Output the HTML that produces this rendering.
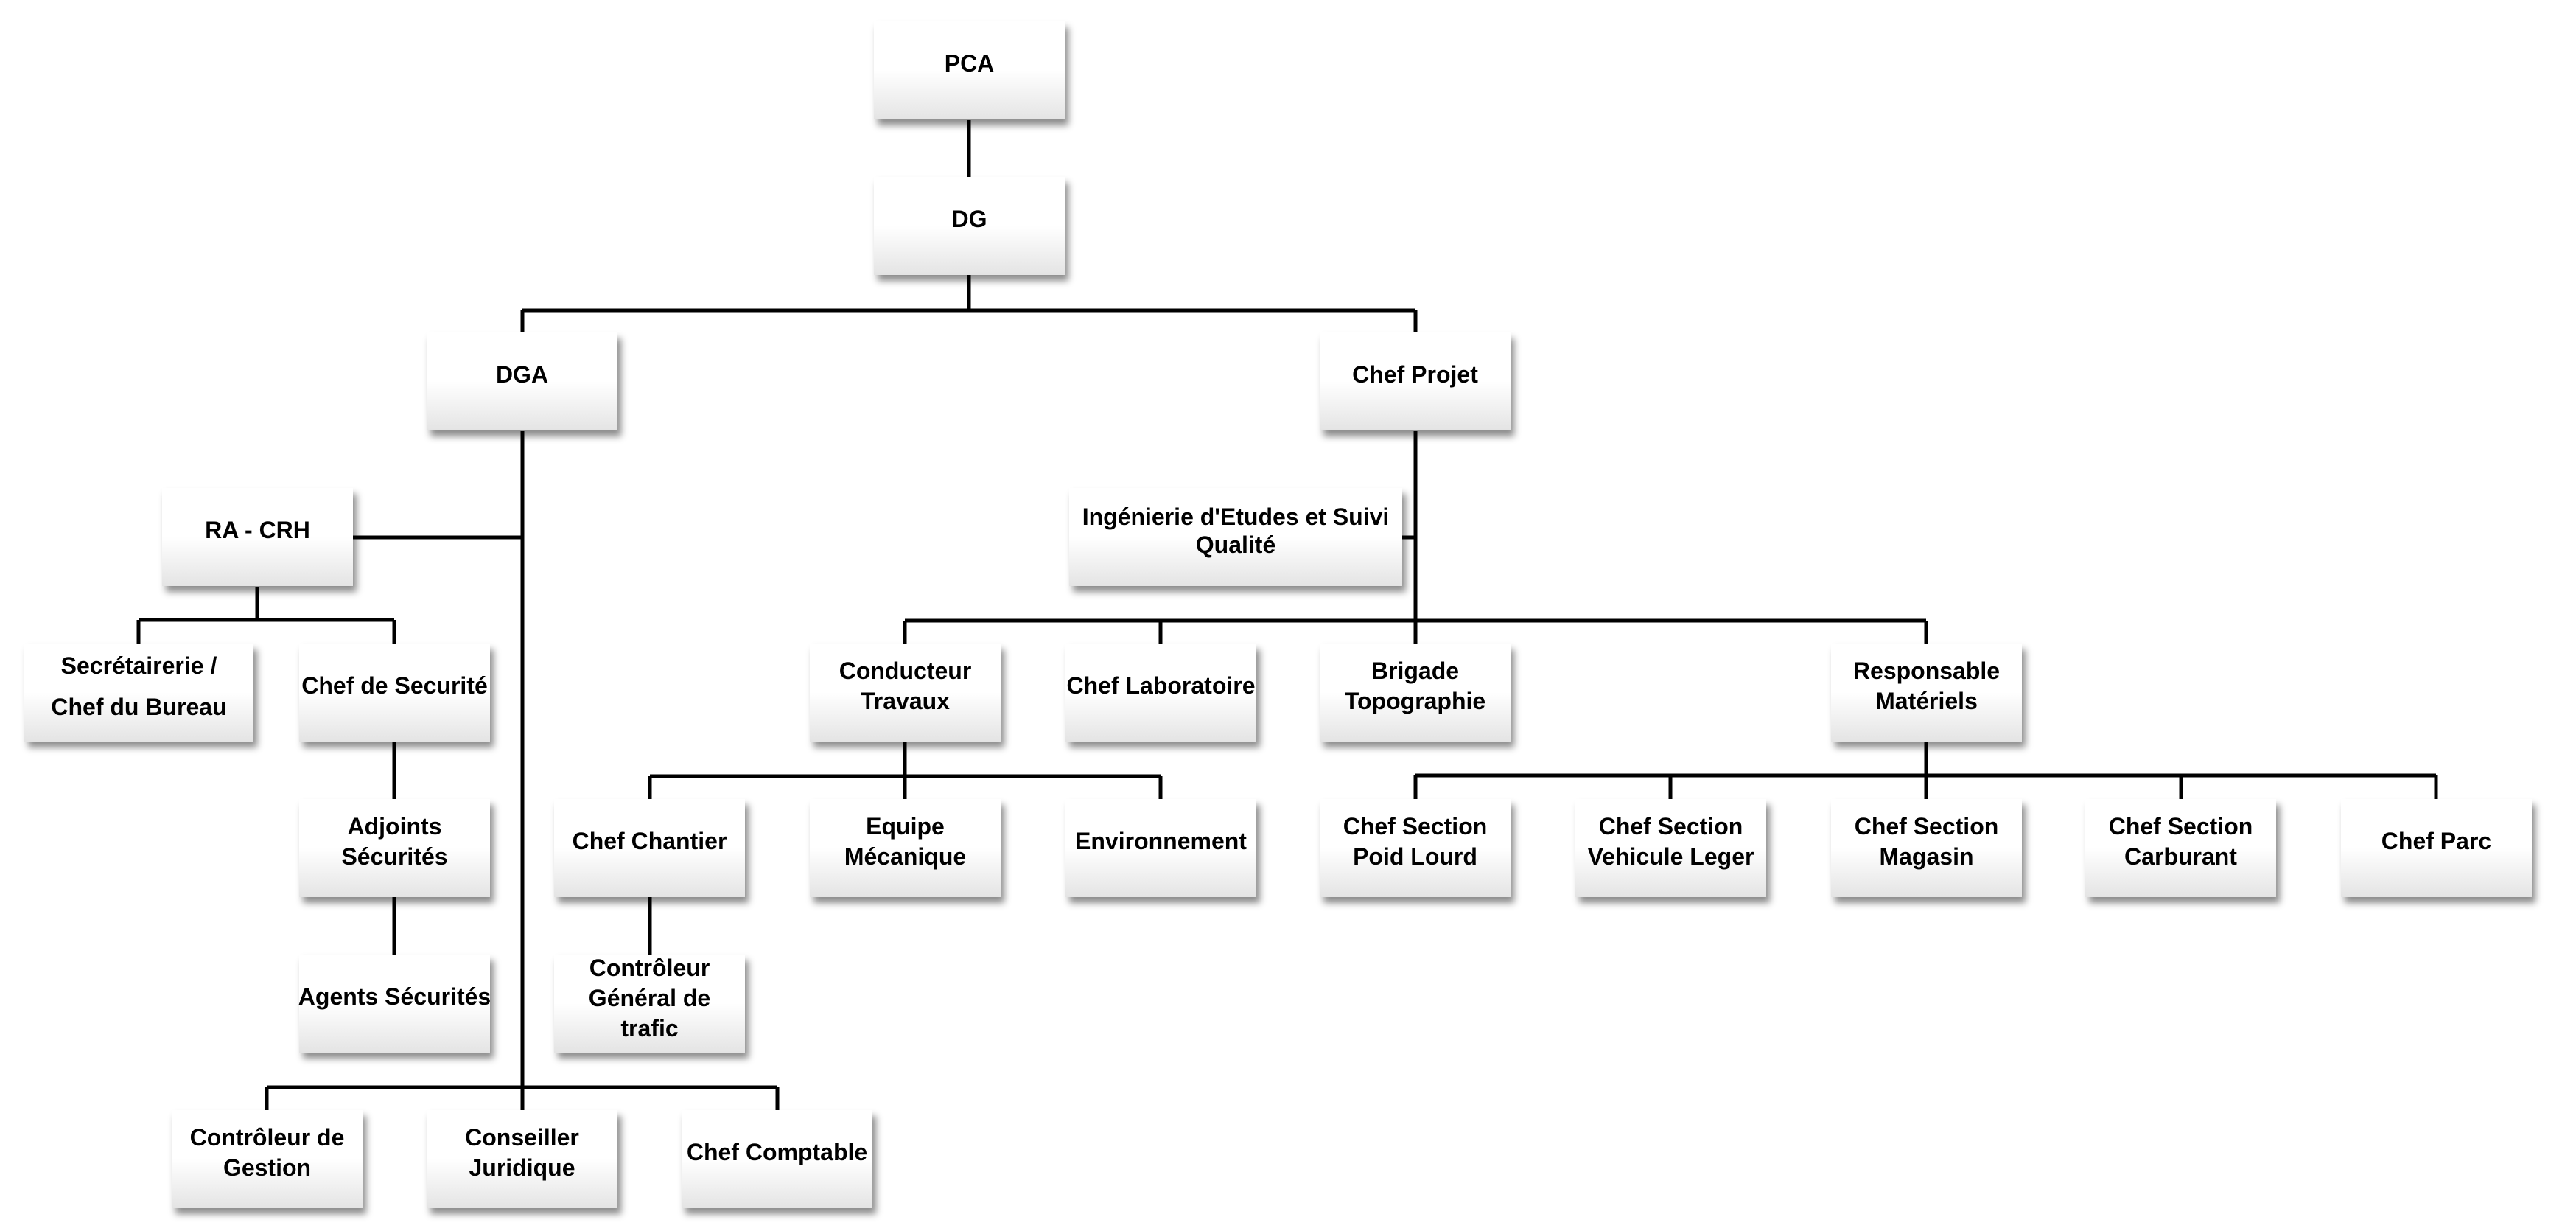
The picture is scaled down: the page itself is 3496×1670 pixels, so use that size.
<!DOCTYPE html>
<html><head><meta charset="utf-8"><style>
html,body{margin:0;padding:0;background:#fff;}
body{width:3496px;height:1670px;position:relative;overflow:hidden;font-family:"Liberation Sans Narrow","Liberation Sans",sans-serif;}
.b{position:absolute;height:133px;width:259px;box-sizing:border-box;background:linear-gradient(to bottom,#fff 0%,#fff 50%,#e4e4e4 100%);box-shadow:5px 8px 9px rgba(0,0,0,0.45);display:flex;align-items:center;justify-content:center;text-align:center;font-weight:bold;font-size:32px;line-height:41px;color:#000;padding-bottom:18px;white-space:nowrap;}
svg{position:absolute;left:0;top:0;}
</style></head><body>
<svg width="3496" height="1670" stroke="#000" stroke-width="5" fill="none">
<path d="M1315 163V240M1315 373V421M709 421H1921M709 421V451M1921 421V451"/>
<path d="M709 585V1475M478 729H709M349 796V841M188 841H535M188 841V873M535 841V873"/>
<path d="M535 1006V1084M535 1217V1295M362 1475H1055M362 1475V1506M709 1475V1506M1055 1475V1506"/>
<path d="M1921 585V842M1902 729H1921M1228 842H2614M1228 842V873M1575 842V873M1921 842V873M2614 842V873"/>
<path d="M1228 1006V1053M882 1053H1575M882 1053V1084M1228 1053V1084M1575 1053V1084M882 1217V1295"/>
<path d="M2614 1006V1052M1921 1052H3306M1921 1052V1084M2267 1052V1084M2614 1052V1084M2960 1052V1084M3306 1052V1084"/>
</svg>
<div class="b" style="left:1186px;top:29px">PCA</div>
<div class="b" style="left:1186px;top:240px">DG</div>
<div class="b" style="left:579px;top:451px">DGA</div>
<div class="b" style="left:1791px;top:451px">Chef Projet</div>
<div class="b" style="left:220px;top:662px">RA - CRH</div>
<div class="b" style="left:1451px;top:662px;width:452px;line-height:38px">Ingénierie d'Etudes et Suivi<br>Qualité</div>
<div class="b" style="left:33px;top:873px;width:311px;line-height:56px">Secrétairerie /<br>Chef du Bureau</div>
<div class="b" style="left:406px;top:873px">Chef de Securité</div>
<div class="b" style="left:1099px;top:873px">Conducteur<br>Travaux</div>
<div class="b" style="left:1446px;top:873px">Chef Laboratoire</div>
<div class="b" style="left:1791px;top:873px">Brigade<br>Topographie</div>
<div class="b" style="left:2485px;top:873px">Responsable<br>Matériels</div>
<div class="b" style="left:406px;top:1084px">Adjoints<br>Sécurités</div>
<div class="b" style="left:752px;top:1084px">Chef Chantier</div>
<div class="b" style="left:1099px;top:1084px">Equipe<br>Mécanique</div>
<div class="b" style="left:1446px;top:1084px">Environnement</div>
<div class="b" style="left:1791px;top:1084px">Chef Section<br>Poid Lourd</div>
<div class="b" style="left:2138px;top:1084px">Chef Section<br>Vehicule Leger</div>
<div class="b" style="left:2485px;top:1084px">Chef Section<br>Magasin</div>
<div class="b" style="left:2830px;top:1084px">Chef Section<br>Carburant</div>
<div class="b" style="left:3177px;top:1084px">Chef Parc</div>
<div class="b" style="left:406px;top:1295px">Agents Sécurités</div>
<div class="b" style="left:752px;top:1295px;padding-bottom:14px">Contrôleur<br>Général de<br>trafic</div>
<div class="b" style="left:233px;top:1506px">Contrôleur de<br>Gestion</div>
<div class="b" style="left:579px;top:1506px">Conseiller<br>Juridique</div>
<div class="b" style="left:925px;top:1506px">Chef Comptable</div>
</body></html>
